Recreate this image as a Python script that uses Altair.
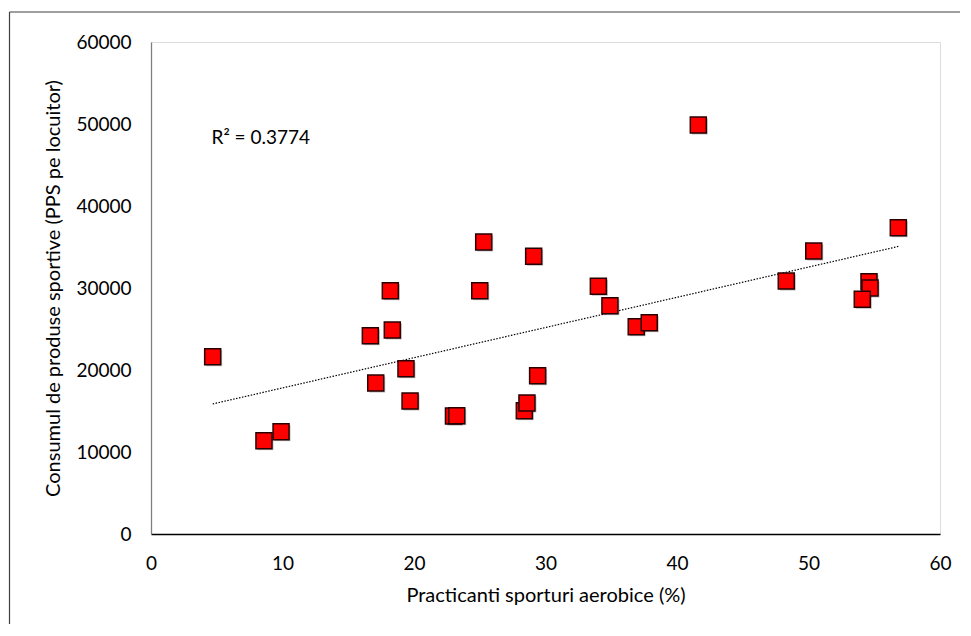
import altair as alt
import pandas as pd

# Practicanti sporturi aerobice (%)
practicanti = [4.69, 8.59, 9.89, 16.68, 17.09, 18.2, 18.35, 19.39, 19.7, 23.0,
               23.25, 25.0, 25.3, 28.39, 28.59, 29.1, 29.4, 34.02, 34.9, 36.9,
               37.89, 41.62, 48.31, 50.4, 54.6, 54.68, 54.09, 56.83]
# Consumul de produse sportive (PPS pe locuitor)
consum = [21620, 11380, 12480, 24180, 18410, 29670, 24880, 20160, 16220, 14390,
          14430, 29670, 35610, 15040, 15980, 33870, 19300, 30210, 27840, 25280,
          25770, 49880, 30850, 34510, 30770, 30000, 28620, 37350]

x_ticks = [0, 10, 20, 30, 40, 50, 60]
y_ticks = [0, 10000, 20000, 30000, 40000, 50000, 60000]
r2_label = ["R² = 0.3774"]
r2_pos = [(4.6, 48300)]

df = pd.DataFrame({"x": practicanti, "y": consum})
df_lbl = pd.DataFrame({"t": r2_label, "x": [p[0] for p in r2_pos], "y": [p[1] for p in r2_pos]})

FONT = "Lato"

xs = alt.Scale(domain=[0, 60], nice=False)
ys = alt.Scale(domain=[0, 60000], nice=False)

x_axis = alt.Axis(values=x_ticks, grid=False, ticks=False, domainColor="#000000",
                  domainWidth=1.3, labelPadding=20, labelFontSize=19, labelFont=FONT,
                  labelColor="#000000", format="d", title="Practicanti sporturi aerobice (%)",
                  titleFont=FONT, titleFontSize=20, titleFontWeight="normal",
                  titleColor="#000000", titlePadding=12, labelFlush=False)
y_axis = alt.Axis(values=y_ticks, grid=False, ticks=False, domainColor="#7f7f7f",
                  domainWidth=1.3, labelPadding=20, labelFontSize=19, labelFont=FONT,
                  labelColor="#000000", format="d",
                  title="Consumul de produse sportive (PPS pe locuitor)",
                  titleFont=FONT, titleFontSize=20, titleFontWeight="normal",
                  titleColor="#000000", titlePadding=12, labelFlush=False)

base = alt.Chart(df)

shadow = base.mark_point(shape="square", size=256, filled=True, color="#000000",
                         opacity=0.25, xOffset=1.5, yOffset=1.5).encode(
    x=alt.X("x:Q", scale=xs, axis=x_axis),
    y=alt.Y("y:Q", scale=ys, axis=y_axis),
)

pts = base.mark_point(shape="square", size=256, filled=True, fill="#ff0000",
                      stroke="#2a0000", strokeWidth=1.5, opacity=1).encode(
    x=alt.X("x:Q", scale=xs),
    y=alt.Y("y:Q", scale=ys),
)

trend = base.transform_regression("x", "y").mark_line(
    color="#000000", strokeWidth=1.2, strokeDash=[1.5, 1.5]).encode(
    x=alt.X("x:Q", scale=xs),
    y=alt.Y("y:Q", scale=ys),
)

label = alt.Chart(df_lbl).mark_text(align="left", baseline="middle", font=FONT,
                                    fontSize=19, color="#000000").encode(
    x=alt.X("x:Q", scale=xs),
    y=alt.Y("y:Q", scale=ys),
    text="t:N",
)

border_top = alt.Chart(df_lbl).mark_rule(color="#404040", strokeWidth=1.2).encode(
    x=alt.value(-141.5), x2=alt.value(900), y=alt.value(-30))
border_left = alt.Chart(df_lbl).mark_rule(color="#404040", strokeWidth=1.2).encode(
    x=alt.value(-141.5), y=alt.value(-30), y2=alt.value(700))

chart = alt.layer(border_top, border_left, trend, shadow, pts, label).properties(
    width=789, height=492,
    autosize=alt.AutoSizeParams(type="none"),
    padding={"left": 143, "top": 34, "right": 20, "bottom": 90},
).configure_view(stroke=None).configure(background="#ffffff")

chart.save("out.html", embed_options={"renderer": "svg", "actions": False})
